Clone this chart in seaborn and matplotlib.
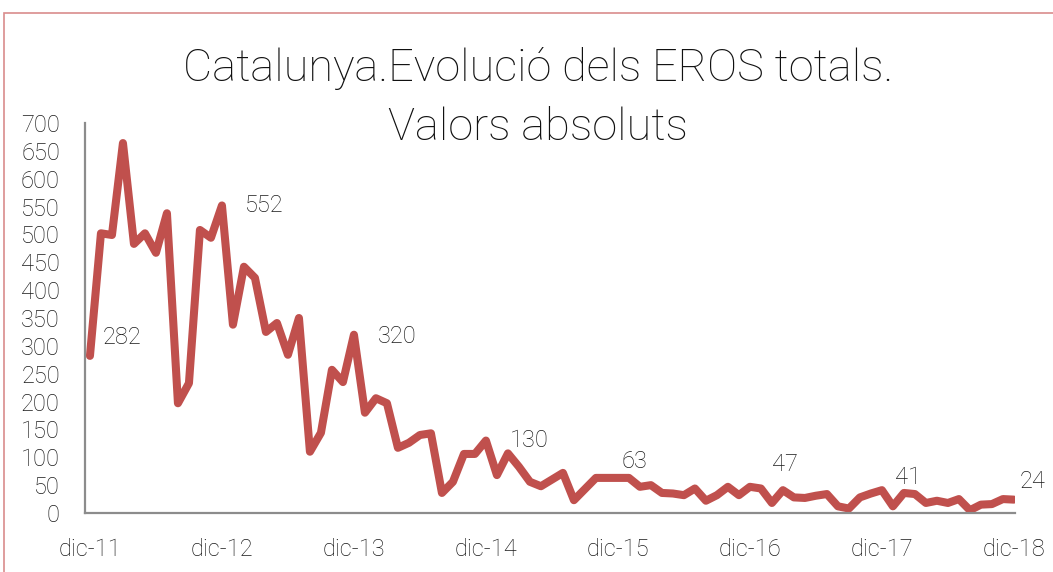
import pandas as pd
import matplotlib.pyplot as plt
import seaborn as sns
from matplotlib.patches import Rectangle

# monthly EROS, dic-11 .. dic-18
values = [282, 502, 499, 664, 483, 502, 467, 538, 197, 233, 508, 494,
          552, 338, 442, 422, 325, 341, 284, 350, 110, 144, 257, 235,
          320, 180, 206, 197, 117, 126, 140, 143, 36, 56, 106, 106,
          130, 68, 107, 83, 56, 48, 60, 72, 23, 43, 63, 63,
          63, 63, 47, 50, 36, 35, 32, 44, 22, 32, 47, 32,
          47, 44, 18, 41, 28, 27, 31, 34, 12, 8, 28, 35,
          41, 12, 36, 34, 18, 22, 18, 25, 5, 15, 16, 25,
          24]
tick_labels = ["dic-11", "dic-12", "dic-13", "dic-14", "dic-15", "dic-16", "dic-17", "dic-18"]
label_idx = [0, 12, 24, 36, 48, 60, 72, 84]
label_offsets = [(13, 18), (23, 0), (24, -2), (24, 0), (4, 16), (22, 22), (13, 13), (6, 18)]

df = pd.DataFrame({"mes": range(len(values)), "eros": values})

sns.set_style("white")
plt.rcParams["font.family"] = ["Roboto", "DejaVu Sans"]
plt.rcParams["font.weight"] = "light"

fig = plt.figure(figsize=(10.53, 5.72), dpi=100)
ax = fig.add_axes([85 / 1053, 1 - 513 / 572, 930 / 1053, 390 / 572])

sns.lineplot(data=df, x="mes", y="eros", color="#C0504D", linewidth=5.8, ax=ax)

for i, (dx, dy) in zip(label_idx, label_offsets):
    ax.annotate(str(values[i]), (i, values[i]), xytext=(dx, dy), textcoords="offset pixels",
                ha="left", va="center", fontsize=17, color="#1a1a1a", fontweight="light")

ax.set_xlim(-0.45, 84.1)
ax.set_ylim(0, 700)
ax.set_yticks(range(0, 701, 50))
ax.set_xticks(label_idx)
ax.set_xticklabels(tick_labels)
ax.tick_params(axis="both", labelsize=17, colors="#1a1a1a", length=0)
ax.tick_params(axis="x", pad=18)
ax.tick_params(axis="y", pad=18)
for lab in ax.get_xticklabels() + ax.get_yticklabels():
    lab.set_fontweight("light")
ax.set_xlabel("")
ax.set_ylabel("")
for s in ["top", "right"]:
    ax.spines[s].set_visible(False)
for s in ["left", "bottom"]:
    ax.spines[s].set_color("#8C8C8C")
    ax.spines[s].set_linewidth(1.6)

fig.text(0.511, 1 - 98 / 572, "Catalunya.Evolució dels EROS totals.\nValors absoluts",
         ha="center", va="center", fontsize=32.5, color="#111111", linespacing=1.47,
         fontweight="light")

fig.patches.append(Rectangle((4 / 1053, -0.1), 1.2, 1 - 13 / 572 + 0.1, transform=fig.transFigure,
                             fill=False, edgecolor="#D98C8C", linewidth=1.2))

fig.savefig("out.png", dpi=100)
